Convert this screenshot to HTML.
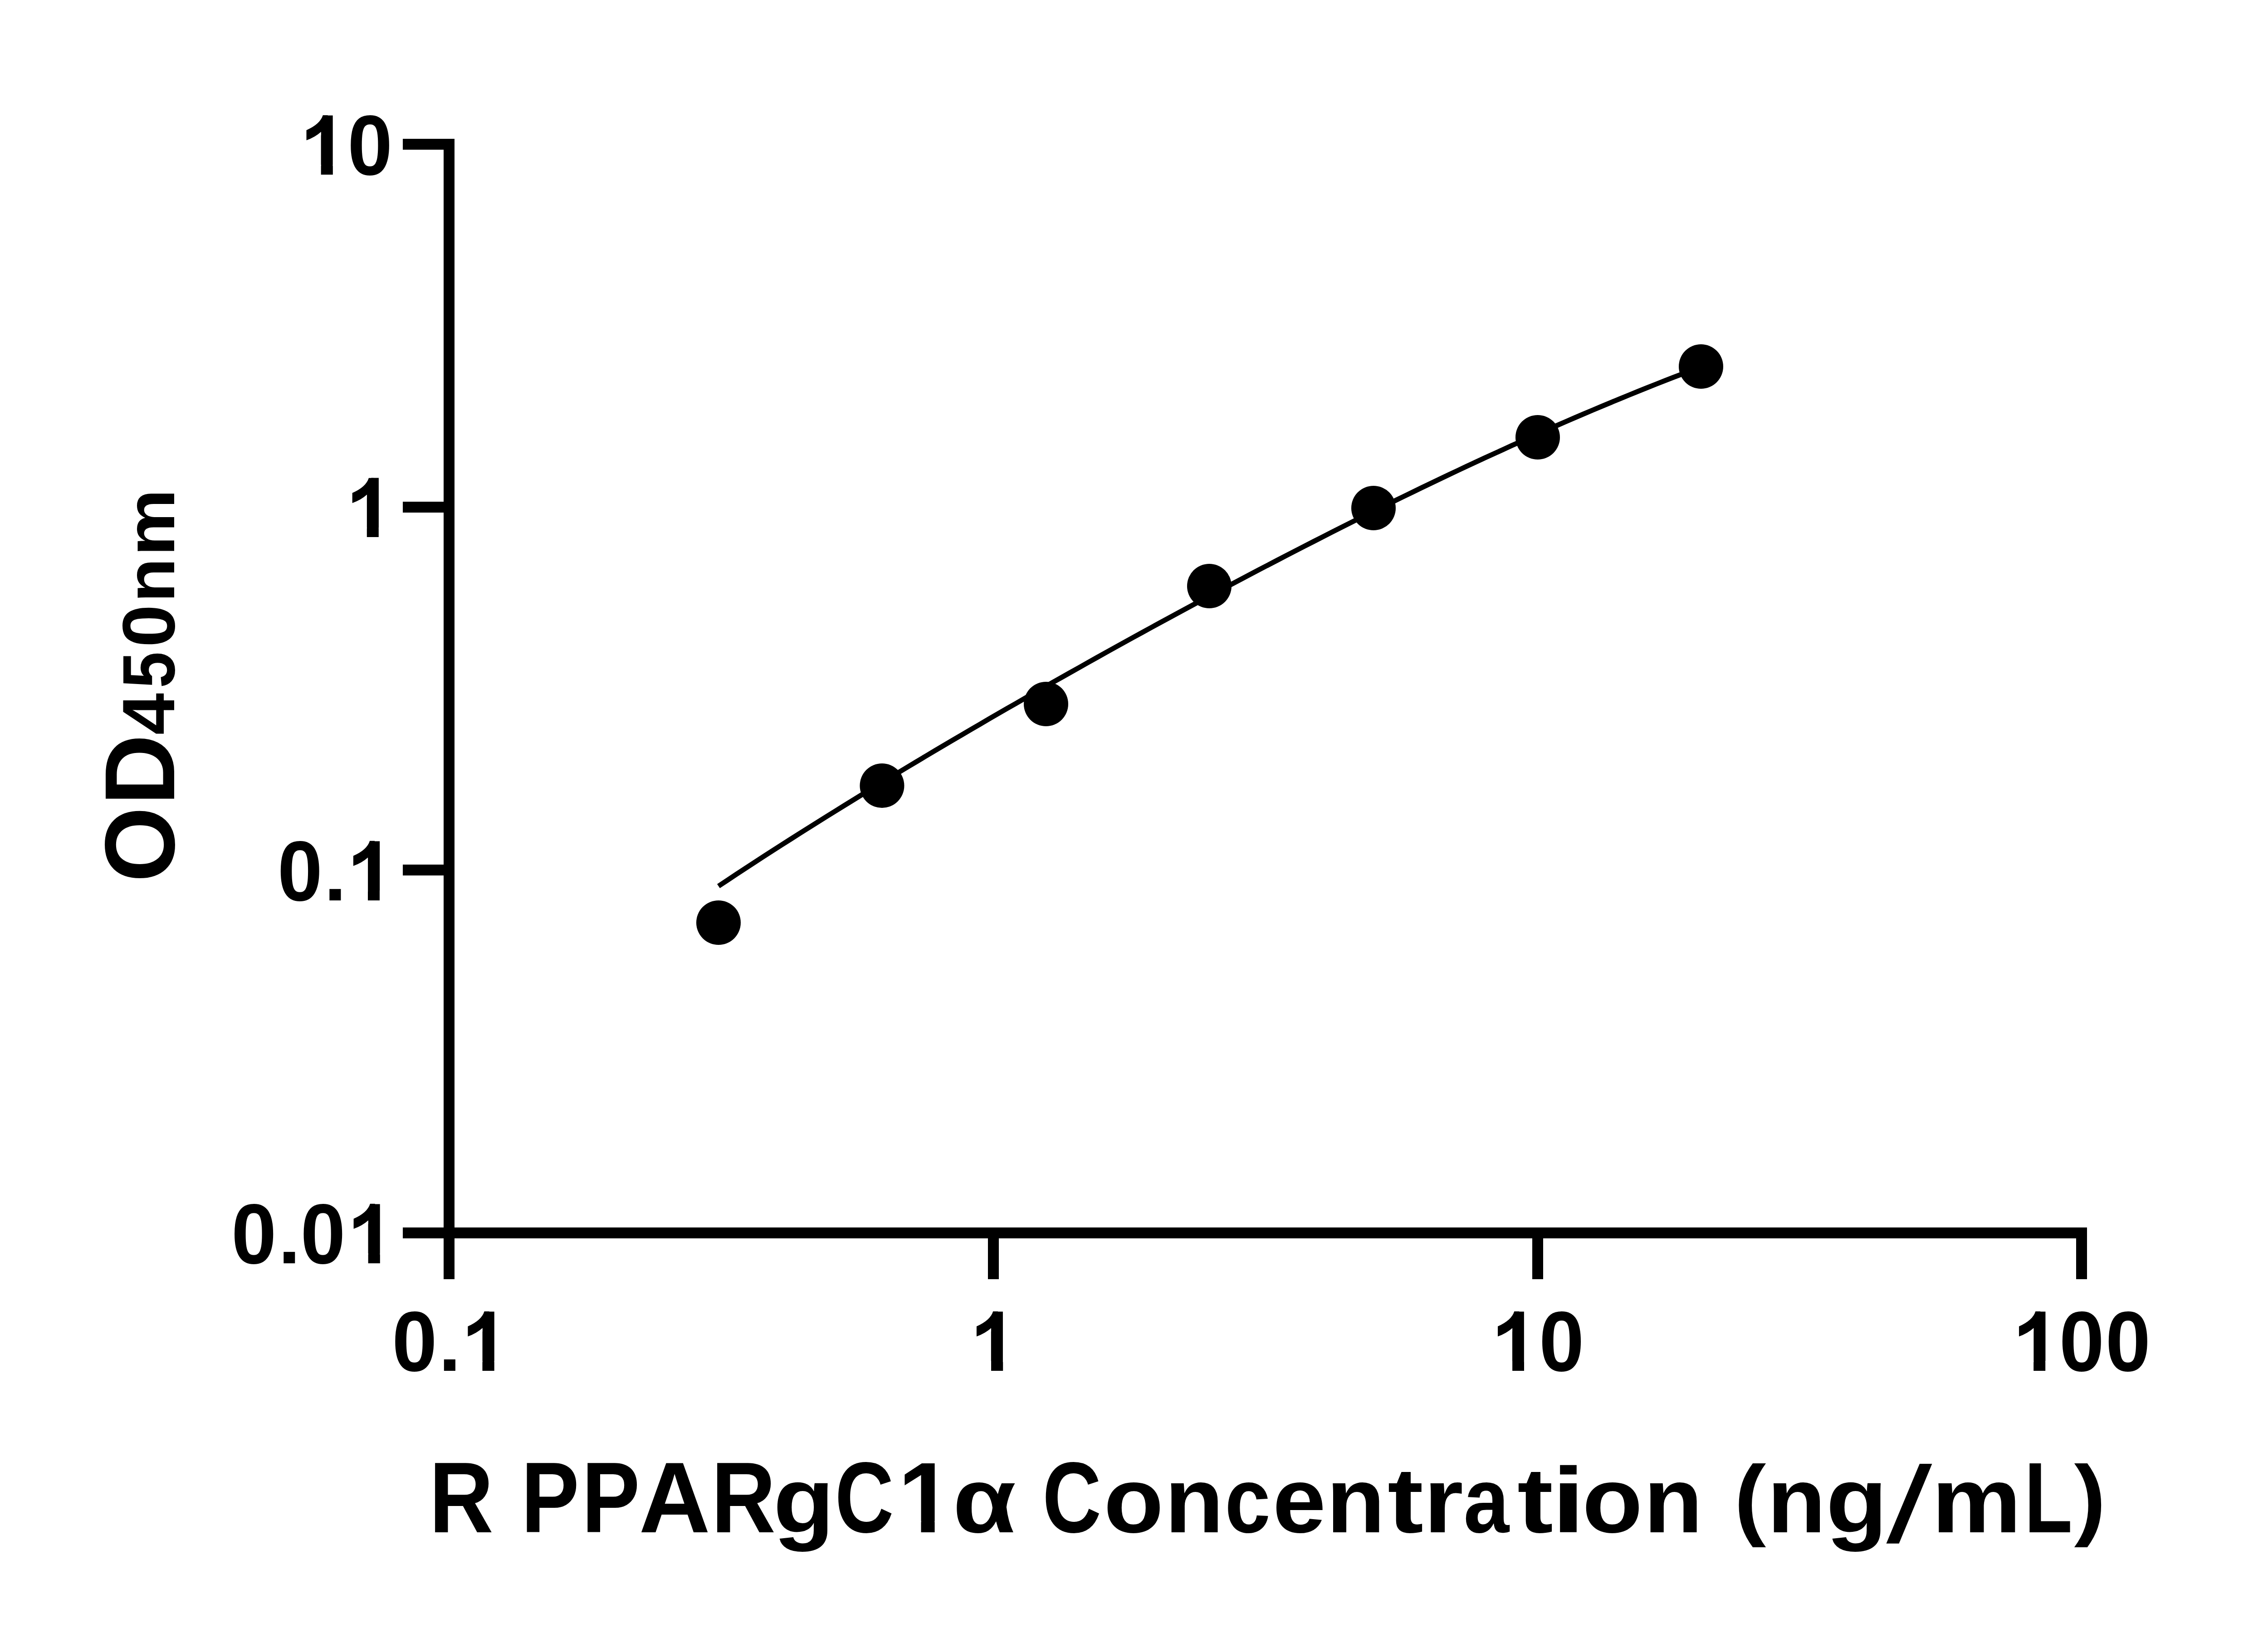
<!DOCTYPE html>
<html><head><meta charset="utf-8"><title>R PPARgC1α standard curve</title>
<style>html,body{margin:0;padding:0;background:#fff;width:5150px;height:3600px;overflow:hidden}svg{display:block;font-family:"Liberation Sans",sans-serif}</style>
</head><body>
<svg width="5150" height="3600" viewBox="0 0 5150 3600">
<rect width="5150" height="3600" fill="#fff"/>
<g fill="#000">
<rect x="978" y="306" width="24" height="2514"/>
<rect x="888" y="306" width="90" height="24"/>
<rect x="888" y="1106" width="90" height="24"/>
<rect x="888" y="1906" width="90" height="24"/>
<rect x="888" y="2706" width="90" height="24"/>
<rect x="978" y="2706" width="3623" height="24"/>
<rect x="2178" y="2730" width="24" height="90"/>
<rect x="3378" y="2730" width="24" height="90"/>
<rect x="4577" y="2730" width="24" height="90"/>
</g>
<path d="M1584.0 1953.5 L1603.9 1940.3 L1623.7 1927.2 L1643.6 1914.1 L1663.5 1901.1 L1683.4 1888.2 L1703.2 1875.4 L1723.1 1862.7 L1743.0 1850.0 L1762.8 1837.4 L1782.7 1824.8 L1802.6 1812.3 L1822.5 1799.9 L1842.3 1787.6 L1862.2 1775.3 L1882.1 1763.0 L1901.9 1750.8 L1921.8 1738.7 L1941.7 1726.6 L1961.6 1714.6 L1981.4 1702.6 L2001.3 1690.6 L2021.2 1678.7 L2041.0 1666.9 L2060.9 1655.1 L2080.8 1643.3 L2100.7 1631.6 L2120.5 1619.9 L2140.4 1608.3 L2160.3 1596.7 L2180.1 1585.1 L2200.0 1573.6 L2219.9 1562.1 L2239.8 1550.7 L2259.6 1539.3 L2279.5 1527.9 L2299.4 1516.6 L2319.2 1505.3 L2339.1 1494.1 L2359.0 1482.9 L2378.9 1471.7 L2398.7 1460.5 L2418.6 1449.4 L2438.5 1438.3 L2458.3 1427.3 L2478.2 1416.3 L2498.1 1405.3 L2518.0 1394.4 L2537.8 1383.5 L2557.7 1372.7 L2577.6 1361.9 L2597.4 1351.1 L2617.3 1340.3 L2637.2 1329.6 L2657.1 1318.9 L2676.9 1308.3 L2696.8 1297.7 L2716.7 1287.2 L2736.6 1276.6 L2756.4 1266.2 L2776.3 1255.7 L2796.2 1245.3 L2816.0 1235.0 L2835.9 1224.7 L2855.8 1214.4 L2875.7 1204.2 L2895.5 1194.0 L2915.4 1183.8 L2935.3 1173.7 L2955.1 1163.7 L2975.0 1153.7 L2994.9 1143.7 L3014.8 1133.8 L3034.6 1123.9 L3054.5 1114.1 L3074.4 1104.3 L3094.2 1094.6 L3114.1 1085.0 L3134.0 1075.3 L3153.9 1065.8 L3173.7 1056.3 L3193.6 1046.8 L3213.5 1037.4 L3233.3 1028.1 L3253.2 1018.8 L3273.1 1009.6 L3293.0 1000.5 L3312.8 991.4 L3332.7 982.3 L3352.6 973.4 L3372.4 964.4 L3392.3 955.6 L3412.2 946.8 L3432.1 938.1 L3451.9 929.5 L3471.8 920.9 L3491.7 912.4 L3511.5 904.0 L3531.4 895.6 L3551.3 887.3 L3571.2 879.1 L3591.0 871.0 L3610.9 862.9 L3630.8 854.9 L3650.6 847.0 L3670.5 839.2 L3690.4 831.4 L3710.3 823.8 L3730.1 816.2 L3750.0 808.7" fill="none" stroke="#000" stroke-width="11"/>
<g fill="#000">
<circle cx="1584" cy="2034" r="49"/>
<circle cx="1944.5" cy="1732" r="49"/>
<circle cx="2306" cy="1552" r="49"/>
<circle cx="2666" cy="1292" r="49"/>
<circle cx="3028" cy="1120" r="49"/>
<circle cx="3390" cy="964" r="49"/>
<circle cx="3750" cy="808" r="49"/>
</g>
<g font-family="Liberation Sans, sans-serif" font-weight="bold" fill="#000">
<text y="384.6"><tspan x="663.17" font-size="190">1</tspan><tspan x="766.36" font-size="188" textLength="98.93" lengthAdjust="spacingAndGlyphs">0</tspan></text>
<text y="1184.4"><tspan x="764.54" font-size="190">1</tspan></text>
<text y="1984.5"><tspan x="611.74" font-size="188" textLength="99.28" lengthAdjust="spacingAndGlyphs">0</tspan><tspan x="714.23" font-size="168" textLength="49.42" lengthAdjust="spacingAndGlyphs">.</tspan><tspan x="766.74" font-size="190">1</tspan></text>
<text y="2784.5"><tspan x="510.12" font-size="188" textLength="99.52" lengthAdjust="spacingAndGlyphs">0</tspan><tspan x="613.28" font-size="168" textLength="49.22" lengthAdjust="spacingAndGlyphs">.</tspan><tspan x="662.46" font-size="188" textLength="99.05" lengthAdjust="spacingAndGlyphs">0</tspan><tspan x="767.3" font-size="190">1</tspan></text>
<text y="3021.7"><tspan x="864.13" font-size="188" textLength="99.4" lengthAdjust="spacingAndGlyphs">0</tspan><tspan x="966.83" font-size="168" textLength="49.42" lengthAdjust="spacingAndGlyphs">.</tspan><tspan x="1018.95" font-size="190" textLength="106.17" lengthAdjust="spacingAndGlyphs">1</tspan></text>
<text y="3021.7"><tspan x="2140.57" font-size="190">1</tspan></text>
<text y="3021.7"><tspan x="3290.11" font-size="190" textLength="104.88" lengthAdjust="spacingAndGlyphs">1</tspan><tspan x="3392.93" font-size="188" textLength="99.4" lengthAdjust="spacingAndGlyphs">0</tspan></text>
<text y="3021.7"><tspan x="4438.94" font-size="190">1</tspan><tspan x="4539.74" font-size="188" textLength="99.28" lengthAdjust="spacingAndGlyphs">0</tspan><tspan x="4641.73" font-size="188" textLength="99.4" lengthAdjust="spacingAndGlyphs">0</tspan></text>
<text y="3377.7"><tspan x="946.06" y="3377.7" font-size="220" textLength="141.87" lengthAdjust="spacingAndGlyphs">R</tspan><tspan x="1148.75" y="3377.7" font-size="220" textLength="128.11" lengthAdjust="spacingAndGlyphs">P</tspan><tspan x="1282.55" y="3377.7" font-size="220" textLength="128.11" lengthAdjust="spacingAndGlyphs">P</tspan><tspan x="1408.47" y="3377.7" font-size="220" textLength="157.48" lengthAdjust="spacingAndGlyphs">A</tspan><tspan x="1567.95" y="3377.7" font-size="220" textLength="141.98" lengthAdjust="spacingAndGlyphs">R</tspan><tspan x="1704.86" y="3377.7" font-size="204" textLength="134.57" lengthAdjust="spacingAndGlyphs">g</tspan><tspan x="1840.63" y="3377.7" font-size="220" textLength="129.79" lengthAdjust="spacingAndGlyphs">C</tspan><tspan x="1979.43" y="3377.7" font-size="220" textLength="121.81" lengthAdjust="spacingAndGlyphs">1</tspan><tspan x="2100.54" y="3377.7" font-size="204" textLength="139.38" lengthAdjust="spacingAndGlyphs">α</tspan><tspan x="2298.24" y="3377.7" font-size="220" textLength="129.67" lengthAdjust="spacingAndGlyphs">C</tspan><tspan x="2433.37" y="3377.7" font-size="204" textLength="131.87" lengthAdjust="spacingAndGlyphs">o</tspan><tspan x="2567.87" y="3377.7" font-size="204" textLength="130.03" lengthAdjust="spacingAndGlyphs">n</tspan><tspan x="2700.24" y="3377.7" font-size="204" textLength="100.56" lengthAdjust="spacingAndGlyphs">c</tspan><tspan x="2805.77" y="3377.7" font-size="204" textLength="117.12" lengthAdjust="spacingAndGlyphs">e</tspan><tspan x="2924.36" y="3377.7" font-size="204" textLength="129.15" lengthAdjust="spacingAndGlyphs">n</tspan><tspan x="3059.1" y="3377.7" font-size="204" textLength="78.99" lengthAdjust="spacingAndGlyphs">t</tspan><tspan x="3138.74" y="3377.7" font-size="204" textLength="87.15" lengthAdjust="spacingAndGlyphs">r</tspan><tspan x="3226.6" y="3377.7" font-size="204" textLength="100.65" lengthAdjust="spacingAndGlyphs">a</tspan><tspan x="3345" y="3377.7" font-size="204" textLength="78.99" lengthAdjust="spacingAndGlyphs">t</tspan><tspan x="3420.57" y="3377.7" font-size="204" textLength="74.11" lengthAdjust="spacingAndGlyphs">i</tspan><tspan x="3488.19" y="3377.7" font-size="204" textLength="133.01" lengthAdjust="spacingAndGlyphs">o</tspan><tspan x="3623.77" y="3377.7" font-size="204" textLength="130.03" lengthAdjust="spacingAndGlyphs">n</tspan><tspan x="3823.08" y="3369.7" font-size="199" textLength="70.32" lengthAdjust="spacingAndGlyphs">(</tspan><tspan x="3895.96" y="3377.7" font-size="204" textLength="129.15" lengthAdjust="spacingAndGlyphs">n</tspan><tspan x="4025.61" y="3377.7" font-size="204" textLength="135.42" lengthAdjust="spacingAndGlyphs">g</tspan></text>
<text transform="translate(4157.17 3397.7) skewX(-12.84)" font-size="236" x="0" y="0">/</text>
<text y="3377.7"><tspan x="4258.67" y="3377.7" font-size="204" textLength="197.4" lengthAdjust="spacingAndGlyphs">m</tspan><tspan x="4462.77" y="3377.7" font-size="220" textLength="106.17" lengthAdjust="spacingAndGlyphs">L</tspan><tspan x="4572.8" y="3369.7" font-size="199" textLength="69.85" lengthAdjust="spacingAndGlyphs">)</tspan></text>
<text transform="translate(384.2 2000) rotate(-90)" y="0"><tspan x="55.16" font-size="219" textLength="165.79" lengthAdjust="spacingAndGlyphs">O</tspan><tspan x="224.83" font-size="219" textLength="156.26" lengthAdjust="spacingAndGlyphs">D</tspan><tspan x="379.99" font-size="164" textLength="92.2" lengthAdjust="spacingAndGlyphs">4</tspan><tspan x="483.06" font-size="164" textLength="80.26" lengthAdjust="spacingAndGlyphs">5</tspan><tspan x="573.1" font-size="164" textLength="94.25" lengthAdjust="spacingAndGlyphs">0</tspan><tspan x="671.81" font-size="152" textLength="98.16" lengthAdjust="spacingAndGlyphs">n</tspan><tspan x="774.02" font-size="152" textLength="148.11" lengthAdjust="spacingAndGlyphs">m</tspan></text>
</g>
<g fill="#fff">
<rect x="673.41" y="363.21" width="34.24" height="23.39"/>
<rect x="733.8" y="363.21" width="31.73" height="23.39"/>
<rect x="673.41" y="251.88" width="34.24" height="46.44"/>
<rect x="707.15" y="251.88" width="10" height="38"/>
<rect x="774.72" y="1163.01" width="34.07" height="23.39"/>
<rect x="834.8" y="1163.01" width="31.57" height="23.39"/>
<rect x="774.72" y="1051.68" width="34.07" height="46.44"/>
<rect x="808.29" y="1051.68" width="10" height="38"/>
<rect x="776.92" y="1963.11" width="34.07" height="23.39"/>
<rect x="837" y="1963.11" width="31.57" height="23.39"/>
<rect x="776.92" y="1851.78" width="34.07" height="46.44"/>
<rect x="810.49" y="1851.78" width="10" height="38"/>
<rect x="777.51" y="2763.11" width="34.18" height="23.39"/>
<rect x="837.8" y="2763.11" width="31.68" height="23.39"/>
<rect x="777.51" y="2651.78" width="34.18" height="46.44"/>
<rect x="811.2" y="2651.78" width="10" height="38"/>
<rect x="1029.2" y="3000.31" width="34.3" height="23.39"/>
<rect x="1089.7" y="3000.31" width="31.79" height="23.39"/>
<rect x="1029.2" y="2888.98" width="34.3" height="46.44"/>
<rect x="1063.01" y="2888.98" width="10" height="38"/>
<rect x="2150.81" y="3000.31" width="34.24" height="23.39"/>
<rect x="2211.2" y="3000.31" width="31.73" height="23.39"/>
<rect x="2150.81" y="2888.98" width="34.24" height="46.44"/>
<rect x="2184.55" y="2888.98" width="10" height="38"/>
<rect x="3300.24" y="3000.31" width="33.89" height="23.39"/>
<rect x="3360" y="3000.31" width="31.4" height="23.39"/>
<rect x="3300.24" y="2888.98" width="33.89" height="46.44"/>
<rect x="3333.62" y="2888.98" width="10" height="38"/>
<rect x="4449.12" y="3000.31" width="34.07" height="23.39"/>
<rect x="4509.2" y="3000.31" width="31.57" height="23.39"/>
<rect x="4449.12" y="2888.98" width="34.07" height="46.44"/>
<rect x="4482.69" y="2888.98" width="10" height="38"/>
<rect x="1991.19" y="3353.25" width="39.36" height="26.45"/>
<rect x="2060.6" y="3353.25" width="36.47" height="26.45"/>
</g>
<g fill="#000">
<path d="M675.55 286.88 Q705.95 273.48 711.85 253.88 L722.65 253.88 L722.65 295.88 L707.65 290.68 Q694.45 302.58 675.55 309.18 Z"/>
<path d="M776.69 1086.68 Q807.09 1073.28 812.99 1053.68 L823.79 1053.68 L823.79 1095.68 L808.79 1090.48 Q795.59 1102.38 776.69 1108.98 Z"/>
<path d="M778.89 1886.78 Q809.29 1873.38 815.19 1853.78 L825.99 1853.78 L825.99 1895.78 L810.99 1890.58 Q797.79 1902.48 778.89 1909.08 Z"/>
<path d="M779.6 2686.78 Q810 2673.38 815.9 2653.78 L826.7 2653.78 L826.7 2695.78 L811.7 2690.58 Q798.5 2702.48 779.6 2709.08 Z"/>
<path d="M1031.41 2923.98 Q1061.81 2910.58 1067.71 2890.98 L1078.51 2890.98 L1078.51 2932.98 L1063.51 2927.78 Q1050.31 2939.68 1031.41 2946.28 Z"/>
<path d="M2152.95 2923.98 Q2183.35 2910.58 2189.25 2890.98 L2200.05 2890.98 L2200.05 2932.98 L2185.05 2927.78 Q2171.85 2939.68 2152.95 2946.28 Z"/>
<path d="M3302.02 2923.98 Q3332.42 2910.58 3338.32 2890.98 L3349.12 2890.98 L3349.12 2932.98 L3334.12 2927.78 Q3320.92 2939.68 3302.02 2946.28 Z"/>
<path d="M4451.09 2923.98 Q4481.49 2910.58 4487.39 2890.98 L4498.19 2890.98 L4498.19 2932.98 L4483.19 2927.78 Q4469.99 2939.68 4451.09 2946.28 Z"/>
</g>
</svg>
</body></html>
